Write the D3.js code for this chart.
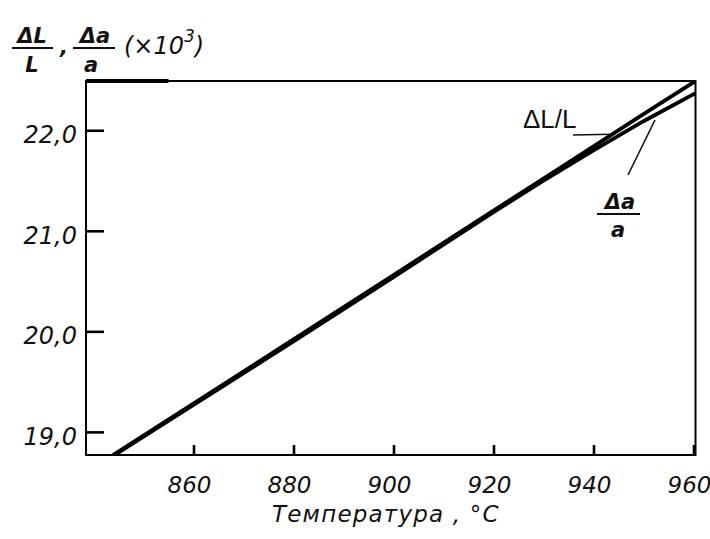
<!DOCTYPE html>
<html><head><meta charset="utf-8">
<script src="https://cdn.jsdelivr.net/npm/d3@7"></script>
<style>body{margin:0;background:#fff} svg{display:block}</style>
</head><body><svg id="c" width="710" height="539"></svg>
<script>
// Data (temperature in °C, values ×10^3)
const temperatures = [843.9, 880, 900, 920, 930, 940, 950, 960.4];
const dLL = [18.77, 19.92, 20.56, 21.20, 21.52, 21.84, 22.16, 22.49];
const dAA = [18.76, 19.90, 20.54, 21.185, 21.50, 21.80, 22.09, 22.37];
const xTicks = [860, 880, 900, 920, 940, 960];
const yTicks = [19, 20, 21, 22];
const xDomain = [838.5, 960.4];
const yDomain = [18.77, 22.49];

const svg = d3.select("#c");
const W = 710, H = 539;
const m = {l: 86, t: 81, r: 14.5, b: 84};
const x = d3.scaleLinear().domain(xDomain).range([m.l, W - m.r]);
const y = d3.scaleLinear().domain(yDomain).range([H - m.b, m.t]);
const hand = "'DejaVu Sans', sans-serif";
const fmt = v => d3.format(".1f")(v).replace(".", ",");

svg.append("defs").append("clipPath").attr("id", "clip")
  .append("rect").attr("x", m.l).attr("y", m.t)
  .attr("width", W - m.r - m.l).attr("height", H - m.b - m.t);

// Lines
const line = arr => d3.line().x((d, i) => x(temperatures[i])).y(d => y(d))(arr);
const g = svg.append("g").attr("clip-path", "url(#clip)");
g.append("path").attr("d", line(dAA)).attr("fill", "none").attr("stroke", "#000").attr("stroke-width", 3.8);
g.append("path").attr("d", line(dLL)).attr("fill", "none").attr("stroke", "#000").attr("stroke-width", 3.8);

// Axes
const xAxis = d3.axisBottom(x).tickValues(xTicks).tickSize(-10).tickFormat("");
const yAxis = d3.axisLeft(y).tickValues(yTicks).tickSize(-18).tickFormat("");
const gx = svg.append("g").attr("transform", `translate(0,${H - m.b})`).call(xAxis);
const gy = svg.append("g").attr("transform", `translate(${m.l},0)`).call(yAxis);
[gx, gy].forEach(a => {
  a.select(".domain").remove();
  a.selectAll(".tick line").attr("stroke", "#000").attr("stroke-width", 2.6);
});

// Frame
svg.append("rect").attr("x", m.l).attr("y", m.t)
  .attr("width", W - m.r - m.l).attr("height", H - m.b - m.t)
  .attr("fill", "none").attr("stroke", "#000").attr("stroke-width", 2);
svg.append("line").attr("x1", m.l).attr("x2", x(855)).attr("y1", m.t).attr("y2", m.t)
  .attr("stroke", "#000").attr("stroke-width", 4);

// Tick labels
svg.append("g").selectAll("text").data(xTicks).join("text")
  .attr("x", d => x(d) - 4).attr("y", H - m.b + 38)
  .attr("text-anchor", "middle").attr("font-family", hand).attr("font-style", "italic")
  .attr("font-size", 23).attr("fill", "#111").text(d => d);
svg.append("g").selectAll("text").data(yTicks).join("text")
  .attr("x", m.l - 9).attr("y", d => y(d) + 13)
  .attr("text-anchor", "end").attr("font-family", hand).attr("font-style", "italic")
  .attr("font-size", 24).attr("fill", "#111").text(d => fmt(d));

// Axis title
svg.append("text").attr("x", 272).attr("y", 522)
  .attr("font-family", hand).attr("font-style", "italic").attr("font-size", 23)
  .attr("letter-spacing", 1.2).attr("fill", "#111").text("Температура , °C");

// Y title (fractions)
const t = svg.append("g").attr("font-family", hand).attr("font-style", "italic")
  .attr("font-weight", "bold").attr("font-size", 21).attr("fill", "#111");
t.append("text").attr("x", 32).attr("y", 43).attr("text-anchor", "middle").text("ΔL");
t.append("line").attr("x1", 12).attr("x2", 53).attr("y1", 48).attr("y2", 48).attr("stroke", "#111").attr("stroke-width", 2);
t.append("text").attr("x", 32).attr("y", 72).attr("text-anchor", "middle").text("L");
t.append("text").attr("x", 60).attr("y", 54).text(",");
t.append("text").attr("x", 95).attr("y", 43).attr("text-anchor", "middle").text("Δa");
t.append("line").attr("x1", 73).attr("x2", 115).attr("y1", 48).attr("y2", 48).attr("stroke", "#111").attr("stroke-width", 2);
t.append("text").attr("x", 91).attr("y", 72).attr("text-anchor", "middle").text("a");
const p = t.append("text").attr("x", 124).attr("y", 54).attr("font-weight", "normal").attr("font-size", 24);
p.append("tspan").text("(×10");
p.append("tspan").attr("dy", -12).attr("font-size", 17).text("3");
p.append("tspan").attr("dy", 12).text(")");

// Annotations
svg.append("text").attr("x", 523).attr("y", 128).attr("font-family", "'Liberation Sans', Arial, sans-serif")
  .attr("font-size", 26).attr("fill", "#111").text("ΔL/L");
svg.append("line").attr("x1", 573).attr("x2", x(943.7)).attr("y1", 135).attr("y2", y(21.96))
  .attr("stroke", "#111").attr("stroke-width", 1.6);
const f = svg.append("g").attr("font-family", hand).attr("font-style", "italic")
  .attr("font-weight", "bold").attr("font-size", 21).attr("fill", "#111");
f.append("text").attr("x", 620).attr("y", 209).attr("text-anchor", "middle").text("Δa");
f.append("line").attr("x1", 597).attr("x2", 640).attr("y1", 214).attr("y2", 214).attr("stroke", "#111").attr("stroke-width", 2);
f.append("text").attr("x", 618).attr("y", 237).attr("text-anchor", "middle").text("a");
svg.append("line").attr("x1", 628).attr("x2", 655).attr("y1", 175).attr("y2", 120)
  .attr("stroke", "#111").attr("stroke-width", 1.6);
</script></body></html>
